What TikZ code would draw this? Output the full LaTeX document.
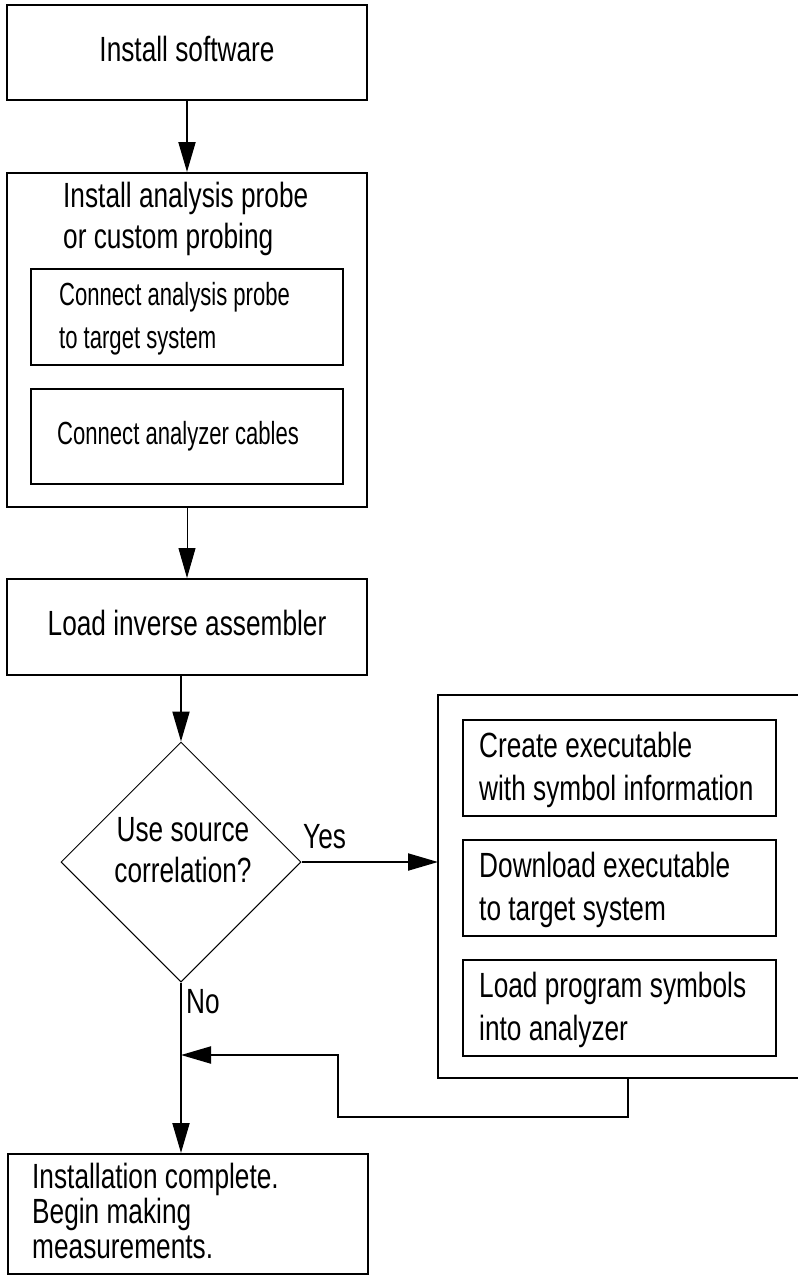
\documentclass[tikz,border=0pt]{standalone}
\usepackage{fontspec}
\setmainfont{Liberation Sans}[FakeStretch=0.75]
\newfontfamily\narrowfont{Liberation Sans}[FakeStretch=0.69]
\usepackage{tikz}
\usetikzlibrary{shapes.geometric,arrows.meta}

\begin{document}
\begin{tikzpicture}[x=1pt,y=-1pt,
                box/.style={rectangle,draw=black,line width=2pt,inner sep=0pt},
                plain/.style={font=\fontsize{35}{42}\selectfont,text height=29pt,text depth=12pt},
                tag/.style={inner sep=0pt,font=\fontsize{35}{41}\selectfont},
                listtag/.style={tag,align=left,anchor=west,font=\fontsize{35}{43}\selectfont},
                subtag/.style={tag,align=left,anchor=west,font=\narrowfont\fontsize{32}{43}\selectfont},
                decision/.style={diamond,draw=black,line width=1pt,aspect=1,minimum width=240,minimum height=240,inner sep=0pt},
                flow/.style={line width=2pt,-{Triangle[length=30pt,width=17pt]}}
            ]
                \fill[white] (0,0) rectangle (798,1275);
                \useasboundingbox (0,0) rectangle (798,1275);

                % left column
                \node[box,plain,minimum width=360,minimum height=95,anchor=north west] (soft) at (6,4) {Install software};
                \node[box,minimum width=360,minimum height=334,anchor=north west] (probe) at (6,172) { };
                \node[tag,anchor=north west,align=left] (probetitle) at (63,182) {Install analysis probe\\or custom probing};
                \node[box,minimum width=312,minimum height=96,anchor=north west] (probeconn) at (30,268) { };
                \node[subtag] (probeconntext) at ([xshift=29pt,yshift=-2pt]probeconn.west) {Connect analysis probe\\to target system};
                \node[box,minimum width=312,minimum height=95,anchor=north west] (probecable) at (30,388) { };
                \node[subtag] (probecabletext) at ([xshift=27pt]probecable.west) {Connect analyzer cables};
                \node[box,plain,minimum width=360,minimum height=96,anchor=north west] (asm) at (6,578) {Load inverse assembler};
                \node[decision] (srcq) at (181,862) { };
                \node[tag,align=center] (srcqtext) at (183,850) {Use source\\correlation?};
                \node[box,minimum width=360,minimum height=120,anchor=north west] (done) at (7,1153) { };
                \node[listtag,font=\fontsize{35}{35}\selectfont] (donetext) at ([xshift=25pt,yshift=3pt]done.west) {Installation complete.\\Begin making\\measurements.};

                % symbol group
                \draw[line width=2pt] (800,695) -| (438,1078) -- (800,1078);
                \coordinate (grpin) at (438,862);
                \coordinate (grpout) at (628,1078);
                \foreach \ytop/\nm/\txt in {719/create/{Create executable\\with symbol information},
                                            839/download/{Download executable\\to target system},
                                            959/symbols/{Load program symbols\\into analyzer}}
                    {
                    \node[box,minimum width=313,minimum height=96,anchor=north west] (\nm) at (462,\ytop) { };
                    \node[listtag] (\nm text) at ([xshift=17pt,yshift=-2pt]\nm.west) {\txt};
                }

                % connectors
                \coordinate (merge) at (181,1055);
                \draw[flow] (soft) -- (probe);
                \draw[flow,line width=1pt] (probe.south) -- (asm.north);
                \draw[flow] (asm.south -| srcq.north) -- (srcq.north);
                \draw[flow] (srcq.east) -- (grpin);
                \node[tag,anchor=base west] (yes) at (303,848) {Yes};
                \draw[flow] (srcq.south) -- (srcq.south |- done.north);
                \node[tag,anchor=base west] (no) at (186,1013) {No};
                \draw[flow] (grpout) -- ++(0,39) -| (338,1055) -- (merge);

            \end{tikzpicture}
\end{document}
